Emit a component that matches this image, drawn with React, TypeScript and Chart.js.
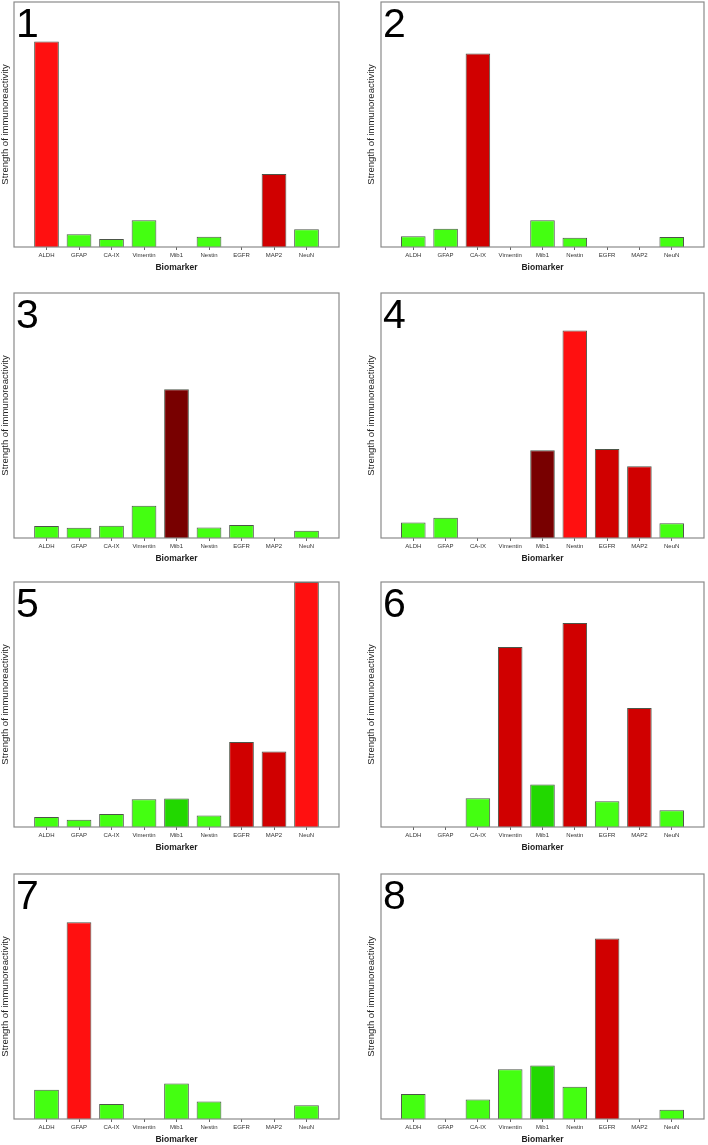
import React, { useEffect, useRef } from "react";
import { Chart, registerables } from "chart.js";

Chart.register(...registerables);

const biomarkers = ["ALDH", "GFAP", "CA-IX", "Vimentin", "Mib1", "Nestin", "EGFR", "MAP2", "NeuN"];

// Strength of immunoreactivity (relative units, axis max = 100)
const case1 = [83.9, 5.2, 3.3, 10.9, 0, 4.2, 0, 29.8, 7.2];
const case2 = [4.4, 7.4, 79.0, 0, 10.9, 3.8, 0, 0, 4.1];
const case3 = [4.9, 4.2, 5.0, 13.2, 60.7, 4.3, 5.3, 0, 3.0];
const case4 = [6.3, 8.3, 0, 0, 35.8, 84.7, 36.3, 29.3, 6.0];
const case5 = [4.1, 3.0, 5.3, 11.3, 11.6, 4.7, 34.7, 30.8, 100];
const case6 = [0, 0, 11.7, 73.5, 17.3, 83.3, 10.5, 48.6, 6.8];
const case7 = [11.9, 80.3, 6.1, 0, 14.5, 7.1, 0, 0, 5.6];
const case8 = [10.2, 0, 8.0, 20.3, 21.8, 13.2, 73.7, 0, 3.8];

// colour class per bar: g = green, G = dark green, r = bright red, R = dark red, M = maroon
const colors1 = ["r", "g", "g", "g", "g", "g", "g", "R", "g"];
const colors2 = ["g", "g", "R", "g", "g", "g", "g", "g", "g"];
const colors3 = ["g", "g", "g", "g", "M", "g", "g", "g", "g"];
const colors4 = ["g", "g", "g", "g", "M", "r", "R", "R", "g"];
const colors5 = ["g", "g", "g", "g", "G", "g", "R", "R", "r"];
const colors6 = ["g", "g", "g", "R", "G", "R", "g", "R", "g"];
const colors7 = ["g", "r", "g", "g", "g", "g", "g", "g", "g"];
const colors8 = ["g", "g", "g", "g", "G", "g", "R", "g", "g"];

const panelLabels = ["1", "2", "3", "4", "5", "6", "7", "8"];
const panelValues = [case1, case2, case3, case4, case5, case6, case7, case8];
const panelColors = [colors1, colors2, colors3, colors4, colors5, colors6, colors7, colors8];

const palette: Record<string, string> = {
  g: "#44ff11",
  G: "#22d800",
  r: "#ff1010",
  R: "#d00000",
  M: "#780000",
};

const FONT = "'Liberation Sans', Arial, sans-serif";

const boxPlugin = {
  id: "panelBox",
  afterDatasetsDraw(chart: any, _args: any, opts: any) {
    const { ctx, chartArea } = chart;
    ctx.save();
    ctx.strokeStyle = "#8a8a8a";
    ctx.lineWidth = 1.2;
    ctx.strokeRect(chartArea.left, chartArea.top, chartArea.right - chartArea.left, chartArea.bottom - chartArea.top);
    ctx.fillStyle = "#000";
    ctx.font = `41px ${FONT}`;
    ctx.textBaseline = "alphabetic";
    ctx.textAlign = "left";
    ctx.fillText(opts.label, chartArea.left + 2, chartArea.top + 35);
    ctx.restore();
  },
};

function Panel({ idx, left, top, boxTop, yAxisW, rightPad, titlePad }: any) {
  const ref = useRef<HTMLCanvasElement>(null);
  useEffect(() => {
    const values = panelValues[idx];
    const cols = panelColors[idx].map((c) => palette[c]);
    const chart = new Chart(ref.current as HTMLCanvasElement, {
      type: "bar",
      data: {
        datasets: [
          {
            data: values.map((v, i) => ({ x: i, y: v })),
            backgroundColor: cols,
            borderColor: "rgba(45,55,40,0.85)",
            borderWidth: 1,
            barPercentage: 0.76,
            categoryPercentage: 1,
          },
        ],
      },
      options: {
        animation: false,
        responsive: false,
        events: [],
        layout: { padding: { top: boxTop, right: rightPad, left: 0, bottom: 0 } },
        plugins: {
          legend: { display: false },
          tooltip: { enabled: false },
          panelBox: { label: panelLabels[idx] },
        } as any,
        scales: {
          x: {
            type: "linear",
            min: -1,
            max: 9,
            offset: false,
            afterBuildTicks: (axis: any) => {
              axis.ticks = biomarkers.map((_, i) => ({ value: i }));
            },
            afterFit: (axis: any) => {
              axis.height = 30;
            },
            ticks: {
              autoSkip: false,
              maxRotation: 0,
              padding: 2,
              color: "#333",
              font: { family: FONT, size: 6 },
              callback: (v: any) => biomarkers[v] ?? "",
            },
            grid: {
              display: true,
              offset: false,
              drawOnChartArea: false,
              drawTicks: true,
              tickLength: 3,
              color: "#666",
            },
            border: { display: false },
            title: {
              display: true,
              text: "Biomarker",
              color: "#222",
              font: { family: FONT, size: 8.5, weight: "bold" },
              padding: { top: 0, bottom: 4 },
            },
          },
          y: {
            min: 0,
            max: 100,
            afterFit: (axis: any) => {
              axis.width = yAxisW;
            },
            ticks: { display: false },
            grid: { display: false },
            border: { display: false },
            title: {
              display: true,
              text: "Strength of immunoreactivity",
              color: "#222",
              font: { family: FONT, size: 9.5 },
              padding: { top: titlePad, bottom: 0 },
            },
          },
        },
      },
      plugins: [boxPlugin],
    });
    return () => chart.destroy();
  }, [idx, boxTop, yAxisW, rightPad, titlePad]);
  const height = boxTop + 245 + 30;
  return (
    <canvas
      ref={ref}
      width={354}
      height={height}
      style={{ position: "absolute", left, top, width: 354, height }}
    />
  );
}

export default function App() {
  const rowBoxTops = [2, 293, 582, 874];
  const panels: any[] = [];
  for (let i = 0; i < 8; i++) {
    const row = Math.floor(i / 2);
    const col = i % 2;
    const pad = row === 0 ? 2 : 12;
    panels.push(
      <Panel
        key={i}
        idx={i}
        left={col * 354}
        top={rowBoxTops[row] - pad}
        boxTop={pad}
        yAxisW={col === 0 ? 14 : 27}
        rightPad={col === 0 ? 15 : 4}
        titlePad={col === 0 ? 0 : 12}
      />
    );
  }
  return (
    <div
      style={{
        position: "absolute",
        left: 0,
        top: 0,
        width: 708,
        height: 1145,
        overflow: "hidden",
        background: "#fff",
      }}
    >
      {panels}
    </div>
  );
}
